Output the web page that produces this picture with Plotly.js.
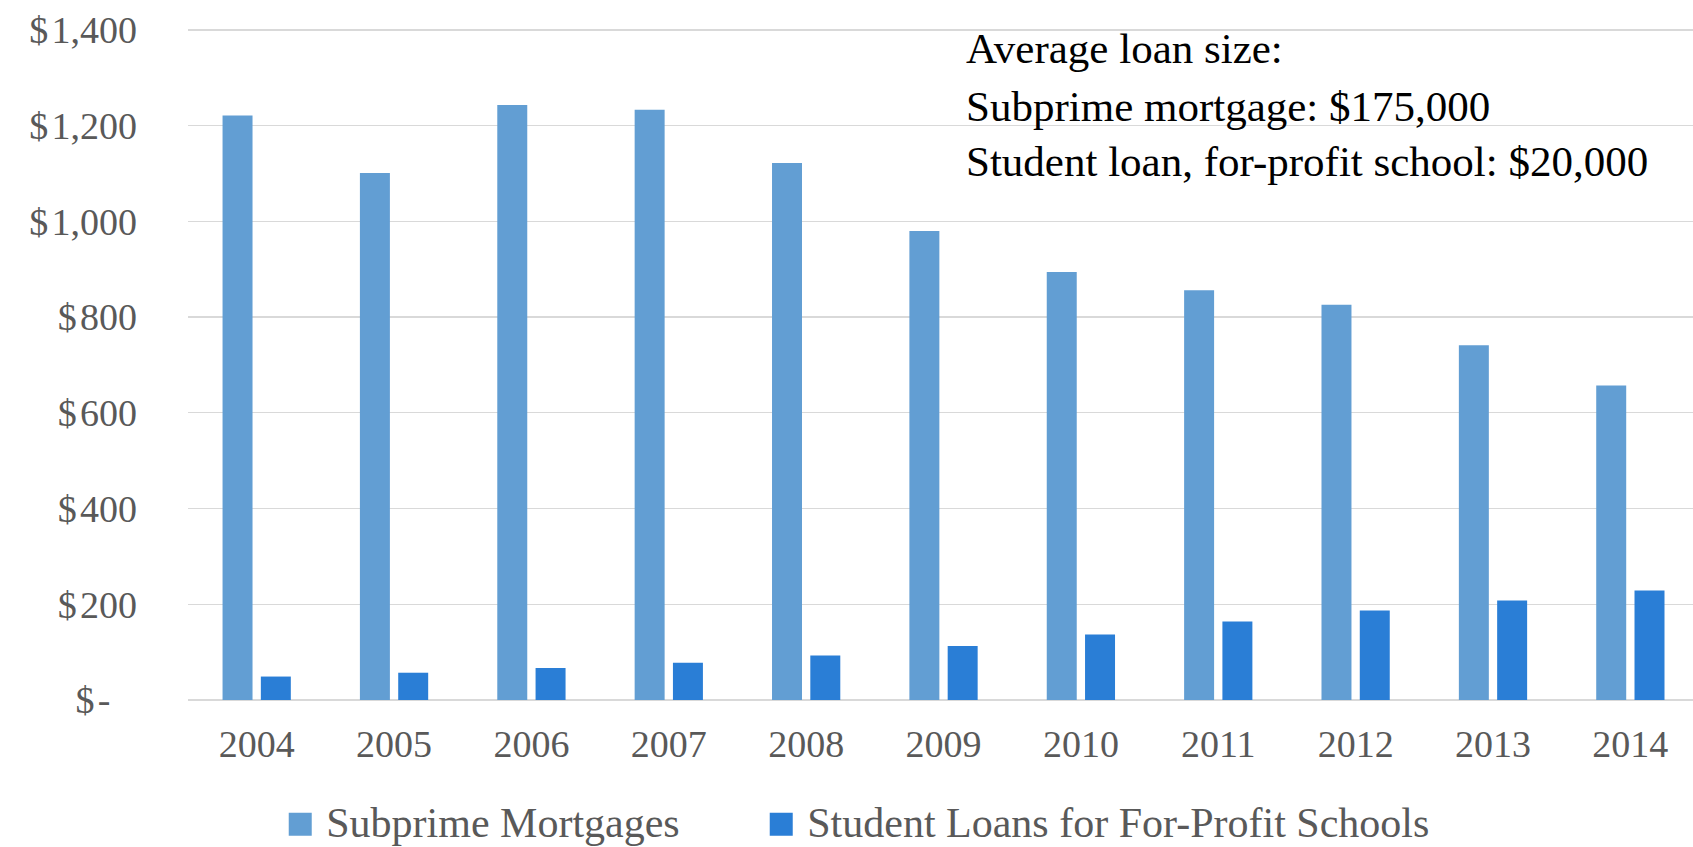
<!DOCTYPE html>
<html><head><meta charset="utf-8">
<script src="https://cdn.plot.ly/plotly-3.0.1.min.js"></script>
<style>html,body{margin:0;padding:0;background:#fff;} #chart{width:1693px;height:847px;}</style>
</head><body><div id="chart"></div>
<script>
const years = ['2004','2005','2006','2007','2008','2009','2010','2011','2012','2013','2014'];
const subprimeMortgages = [1221,1101,1243,1233,1122,980,894,856,826,741,657];
const studentLoansForProfit = [49,57,67,78,93,113,137,164,187,208,229];
const seriesNames = ['Subprime Mortgages','Student Loans for For-Profit Schools'];
const yTickVals = [0,200,400,600,800,1000,1200,1400];
const yTickText = ['$\u200A-\u2002\u2009','$\u200A200','$\u200A400','$\u200A600','$\u200A800','$\u200A1,000','$\u200A1,200','$\u200A1,400'];
const noteLines = ['Average loan size:','Subprime mortgage: $175,000','Student loan, for-profit school: $20,000'];

const FONT = '"Liberation Serif", "DejaVu Serif", serif';
const GRAY = '#595959';

const traces = [
  {type:'bar', name:seriesNames[0], x:years, y:subprimeMortgages, marker:{color:'#629ED3'}, legend:'legend'},
  {type:'bar', name:seriesNames[1], x:years, y:studentLoansForProfit, marker:{color:'#2A7ED6'}, legend:'legend2'}
];

const noteY = [0.9688, 0.8839, 0.8006];
const annotations = noteLines.map((t,i)=>({
  text:t, xref:'paper', yref:'paper', x:0.5157, y:noteY[i], xanchor:'left', yanchor:'middle',
  showarrow:false, align:'left', font:{family:FONT, size:43, color:'#000000'}
}));

const legendBase = {orientation:'h', xanchor:'left', y:-0.180, yanchor:'middle',
  font:{family:FONT, size:42, color:GRAY}, itemwidth:42,
  bgcolor:'rgba(0,0,0,0)', borderwidth:0};

const layout = {
  width:1693, height:847,
  margin:{l:188, r:0, t:28, b:147, pad:0, autoexpand:false},
  paper_bgcolor:'#ffffff', plot_bgcolor:'#ffffff',
  font:{family:FONT, color:GRAY},
  barmode:'group', bargap:0.4425, bargroupgap:0.217,
  showlegend:true,
  legend:Object.assign({}, legendBase, {x:0.0573}),
  legend2:Object.assign({}, legendBase, {x:0.3769}),
  xaxis:{type:'category', range:[-0.5, 10.456], showgrid:false, zeroline:false, showline:false,
    ticks:'', tickfont:{family:FONT, size:38, color:GRAY}, ticklabelstandoff:18, fixedrange:true},
  yaxis:{range:[0,1404], tickvals:yTickVals, ticktext:yTickText, showgrid:true, gridcolor:'#D9D9D9', gridwidth:1.2,
    zeroline:true, zerolinecolor:'#D9D9D9', zerolinewidth:1.5, showline:false, ticks:'',
    tickfont:{family:FONT, size:38, color:GRAY}, ticklabelstandoff:50, fixedrange:true},
  annotations:annotations
};

Plotly.newPlot('chart', traces, layout, {displayModeBar:false, staticPlot:true}).then(()=>{
  document.querySelectorAll('.legendpoints path').forEach(p=>{
    p.setAttribute('d','M11.5,15H-11.5V-8H11.5Z');
  });
});
</script>
</body></html>
